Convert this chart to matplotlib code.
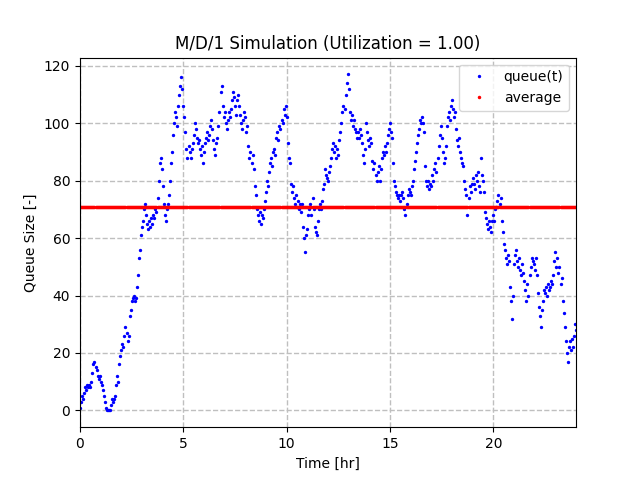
import numpy as np
import matplotlib
matplotlib.use("Agg")
import matplotlib.pyplot as plt

queue_rows = [
    [1, 3, 5, 4, 6, 8, 7, 9, 8, 9, 8, 10, 13, 16, 17, 15, 14, 12, 11, 12],
    [10, 9, 7, 5, 3, 1, 0, 0, 0, 0, 2, 4, 3, 4, 5, 9, 12, 10, 16, 19],
    [21, 23, 22, 26, 29, 27, 24, 26, 33, 35, 38, 39, 40, 38, 39, 43, 47, 53, 56, 61],
    [64, 66, 70, 72, 68, 65, 63, 66, 64, 67, 65, 68, 67, 70, 69, 74, 80, 86, 88, 84],
    [78, 72, 68, 66, 70, 72, 75, 80, 86, 90, 96, 100, 104, 102, 99, 106, 110, 113, 116, 112],
    [106, 102, 97, 91, 88, 92, 90, 88, 91, 93, 96, 100, 98, 95, 93, 94, 91, 89, 92, 86],
    [90, 93, 95, 97, 94, 96, 99, 101, 98, 94, 91, 89, 93, 95, 99, 104, 111, 113, 106, 102],
    [104, 100, 98, 101, 104, 102, 105, 108, 111, 109, 106, 103, 108, 110, 106, 103, 100, 98, 101, 104],
    [102, 97, 99, 92, 88, 90, 86, 89, 84, 78, 75, 70, 68, 66, 69, 65, 68, 67, 70, 73],
    [76, 80, 78, 83, 86, 88, 85, 90, 91, 89, 95, 97, 94, 99, 98, 101, 100, 105, 103, 106],
    [102, 93, 88, 86, 79, 76, 78, 74, 72, 75, 71, 73, 70, 72, 69, 72, 64, 60, 55, 61],
    [63, 68, 70, 72, 68, 74, 70, 64, 62, 61, 66, 70, 72, 70, 73, 77, 79, 84, 82, 81],
    [80, 83, 85, 88, 91, 93, 90, 92, 88, 91, 89, 94, 97, 100, 104, 106, 105, 110, 114, 117],
    [112, 104, 101, 103, 99, 101, 98, 97, 95, 97, 95, 98, 96, 93, 89, 86, 91, 100, 97, 94],
    [92, 95, 93, 87, 84, 86, 82, 80, 83, 85, 80, 84, 88, 90, 89, 92, 90, 93, 96, 98],
    [100, 97, 95, 86, 80, 78, 76, 75, 74, 75, 73, 75, 76, 74, 70, 68, 72, 75, 77, 76],
    [75, 78, 80, 84, 87, 90, 93, 96, 98, 101, 100, 102, 100, 97, 85, 80, 78, 80, 77, 79],
    [78, 82, 80, 84, 86, 83, 88, 92, 96, 99, 95, 90, 86, 88, 92, 99, 102, 104, 101, 106],
    [108, 105, 102, 104, 98, 94, 92, 95, 90, 88, 86, 85, 80, 77, 75, 68, 74, 78, 76, 79],
    [81, 79, 77, 82, 80, 83, 78, 76, 88, 82, 80, 76, 69, 67, 65, 63, 66, 64, 62, 66],
    [68, 66, 70, 71, 73, 75, 72, 74, 66, 62, 58, 56, 53, 51, 54, 52, 43, 38, 32, 40],
    [51, 54, 56, 52, 50, 53, 49, 47, 51, 48, 45, 42, 38, 44, 40, 47, 50, 53, 52, 51],
    [49, 53, 47, 41, 36, 33, 29, 35, 38, 42, 41, 43, 40, 44, 42, 43, 45, 44, 47, 52],
    [55, 50, 53, 48, 50, 44, 46, 38, 34, 29, 24, 20, 17, 22, 24, 21, 25, 22, 26, 30],
]
queue_last = [28]
avg_queue = 70.8

queue = np.array(sum(queue_rows, []) + queue_last)
t = np.linspace(0, 24, len(queue))

plt.figure()
plt.plot(t, queue, 'b.', markersize=2.8, label='queue(t)')
plt.plot(t, np.full(len(t), avg_queue), 'r.', markersize=3, label='average')
plt.title('M/D/1 Simulation (Utilization = 1.00)')
plt.xlabel('Time [hr]')
plt.ylabel('Queue Size [-]')
plt.xlim(0, 24)
plt.grid(True, linestyle='--', color='0.75', linewidth=1)
plt.legend(loc='upper right')
plt.savefig('out.png')
